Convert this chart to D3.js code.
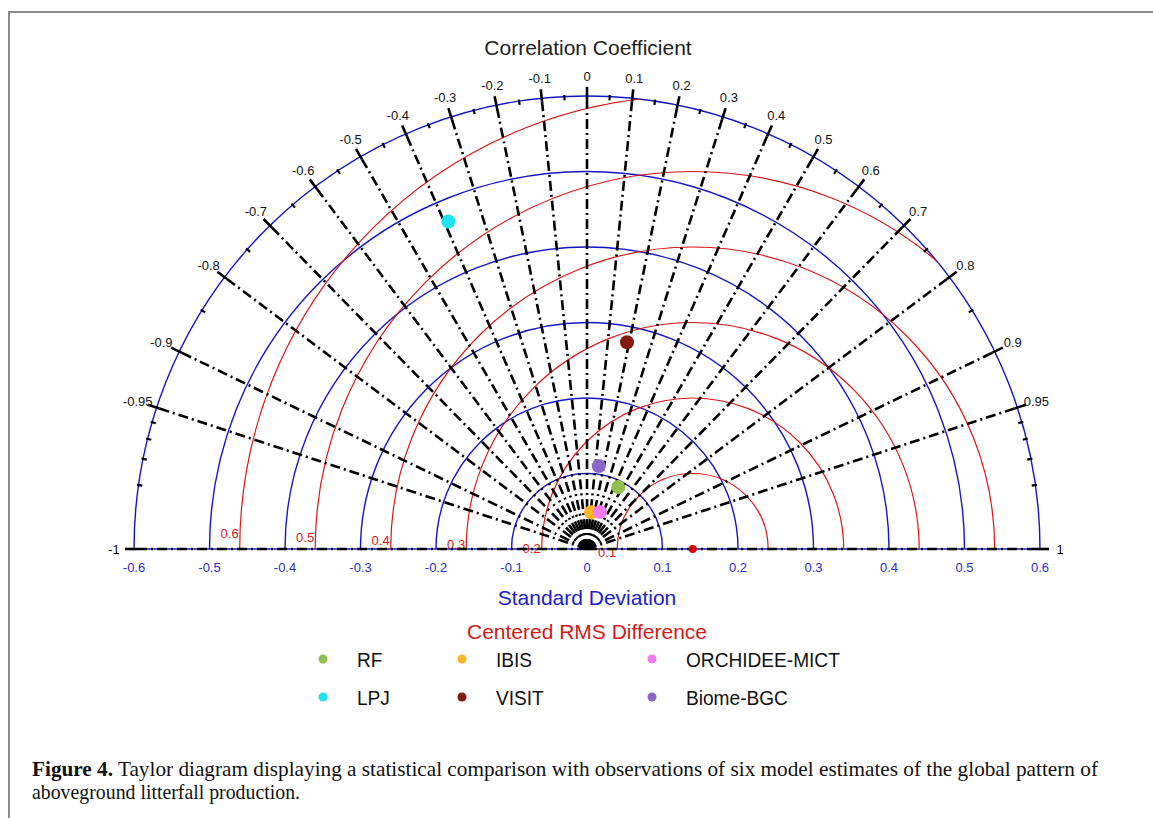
<!DOCTYPE html>
<html>
<head>
<meta charset="utf-8">
<script src="https://d3js.org/d3.v7.min.js"></script>
<style>
  body { margin: 0; background: #fff; }
  svg { font-family: "Liberation Sans", Arial, sans-serif; }
  .caption { font-family: "Liberation Serif", "Times New Roman", serif; }
</style>
</head>
<body>
<svg id="taylor" width="1153" height="818"></svg>

<script>
  // model stats
  var models = ["RF", "IBIS", "ORCHIDEE-MICT", "LPJ", "VISIT", "Biome-BGC"];
  var stdDev = [0.092, 0.049, 0.052, 0.471, 0.279, 0.111];
  var corr = [0.45, 0.11, 0.33, -0.39, 0.19, 0.14];
  var colors = ["#92c04e", "#fdb52a", "#f47cf0", "#1fe2f0", "#801a0c", "#8a66c8"];
  var refStd = 0.14; // observations

  // axes
  var stdTicks = [-0.6, -0.5, -0.4, -0.3, -0.2, -0.1, 0, 0.1, 0.2, 0.3, 0.4, 0.5, 0.6];
  var stdArcs = [0.1, 0.2, 0.3, 0.4, 0.5, 0.6];
  var rmsArcs = [0.1, 0.2, 0.3, 0.4, 0.5, 0.6];
  var corrMajor = [-1, -0.95, -0.9, -0.8, -0.7, -0.6, -0.5, -0.4, -0.3, -0.2, -0.1, 0,
                   0.1, 0.2, 0.3, 0.4, 0.5, 0.6, 0.7, 0.8, 0.9, 0.95, 1];
  var corrMinor = [-0.99, -0.98, -0.97, -0.96, -0.85, -0.75, -0.65, -0.55, -0.45, -0.35,
                   -0.25, -0.15, -0.05, 0.05, 0.15, 0.25, 0.35, 0.45, 0.55, 0.65, 0.75,
                   0.85, 0.96, 0.97, 0.98, 0.99];

  var cx = 587, cy = 549;
  var rScale = d3.scaleLinear().domain([0, 0.6]).range([0, 453]);
  var xScale = d3.scaleLinear().domain([-0.6, 0.6]).range([cx - 453, cx + 453]);
  var R = rScale(0.6);

  var svg = d3.select("#taylor");

  // frame of the figure
  svg.append("path")
    .attr("d", "M9,818 L9,12 L1153,12")
    .attr("fill", "none")
    .attr("stroke", "#8c8c8c")
    .attr("stroke-width", 2);

  // point on the diagram for (std, correlation)
  function pos(s, c) {
    var a = Math.acos(c);
    return [cx + rScale(s) * Math.cos(a), cy - rScale(s) * Math.sin(a)];
  }

  // clip for the rms circles: upper half inside the outer arc
  svg.append("clipPath").attr("id", "half")
    .append("path")
    .attr("d", "M" + (cx - R) + "," + cy + " A" + R + "," + R + " 0 0 1 " + (cx + R) + "," + cy + " Z");

  // blue standard deviation arcs
  svg.selectAll(".stdArc")
    .data(stdArcs)
    .enter().append("path")
    .attr("class", "stdArc")
    .attr("transform", "translate(" + cx + "," + cy + ")")
    .attr("d", function(d) {
      var r = rScale(d);
      return "M" + (-r) + ",0 A" + r + "," + r + " 0 0 1 " + r + ",0";
    })
    .attr("fill", "none")
    .attr("stroke", "#1515c8")
    .attr("stroke-width", 1.4);

  svg.append("line")
    .attr("x1", xScale(-0.6)).attr("x2", xScale(0.6))
    .attr("y1", cy).attr("y2", cy)
    .attr("stroke", "#1515c8")
    .attr("stroke-width", 1.4);

  // red centered rms circles around the reference
  svg.append("g").attr("clip-path", "url(#half)")
    .selectAll("circle")
    .data(rmsArcs)
    .enter().append("circle")
    .attr("cx", xScale(refStd))
    .attr("cy", cy)
    .attr("r", function(d) { return rScale(d); })
    .attr("fill", "none")
    .attr("stroke", "#dc1414")
    .attr("stroke-width", 1.2);

  svg.selectAll(".rmsLabel")
    .data(rmsArcs)
    .enter().append("text")
    .attr("class", "rmsLabel")
    .attr("x", function(d) { return xScale(refStd - d) - 1; })
    .attr("y", function(d) { return 556 - 38 * d; })
    .attr("text-anchor", "end")
    .attr("dominant-baseline", "central")
    .attr("font-size", 13)
    .attr("fill", "#dc1414")
    .text(function(d) { return d; });

  // dash-dot correlation rays
  svg.selectAll(".ray")
    .data(corrMajor)
    .enter().append("line")
    .attr("class", "ray")
    .attr("x1", cx).attr("y1", cy)
    .attr("x2", function(d) { return pos(0.6, d)[0]; })
    .attr("y2", function(d) { return pos(0.6, d)[1]; })
    .attr("stroke", "#000")
    .attr("stroke-width", 2.6)
    .attr("stroke-dasharray", "10,4,2,4");

  // ticks on the outer arc
  svg.selectAll(".majTick")
    .data(corrMajor)
    .enter().append("line")
    .attr("class", "majTick")
    .attr("x1", function(d) { return pos(0.6 - 0.004, d)[0]; })
    .attr("y1", function(d) { return pos(0.6 - 0.004, d)[1]; })
    .attr("x2", function(d) { return pos(0.6 + 0.012, d)[0]; })
    .attr("y2", function(d) { return pos(0.6 + 0.012, d)[1]; })
    .attr("stroke", "#000")
    .attr("stroke-width", 2.6);

  svg.selectAll(".minTick")
    .data(corrMinor)
    .enter().append("line")
    .attr("class", "minTick")
    .attr("x1", function(d) { return pos(0.6 - 0.005, d)[0]; })
    .attr("y1", function(d) { return pos(0.6 - 0.005, d)[1]; })
    .attr("x2", function(d) { return pos(0.6 + 0.002, d)[0]; })
    .attr("y2", function(d) { return pos(0.6 + 0.002, d)[1]; })
    .attr("stroke", "#000")
    .attr("stroke-width", 2.2);

  // correlation labels
  svg.selectAll(".corrLabel")
    .data(corrMajor)
    .enter().append("text")
    .attr("class", "corrLabel")
    .attr("x", function(d) { return pos(rScale.invert(473), d)[0]; })
    .attr("y", function(d) { return pos(rScale.invert(473), d)[1]; })
    .attr("text-anchor", "middle")
    .attr("dominant-baseline", "central")
    .attr("font-size", 13)
    .attr("fill", "#111")
    .text(function(d) { return d; });

  // std axis labels
  svg.selectAll(".stdLabel")
    .data(stdTicks)
    .enter().append("text")
    .attr("class", "stdLabel")
    .attr("x", function(d) { return xScale(d); })
    .attr("y", 567)
    .attr("text-anchor", "middle")
    .attr("dominant-baseline", "central")
    .attr("font-size", 13)
    .attr("fill", "#2a2ad0")
    .text(function(d) { return d; });

  // reference point
  svg.append("circle")
    .attr("cx", xScale(refStd)).attr("cy", cy)
    .attr("r", 4)
    .attr("fill", "#dd0000");

  // model points
  svg.selectAll(".pt")
    .data(models)
    .enter().append("circle")
    .attr("class", "pt")
    .attr("cx", function(d, i) { return pos(stdDev[i], corr[i])[0]; })
    .attr("cy", function(d, i) { return pos(stdDev[i], corr[i])[1]; })
    .attr("r", 7)
    .attr("fill", function(d, i) { return colors[i]; });

  // titles
  svg.append("text")
    .attr("x", 588).attr("y", 55)
    .attr("text-anchor", "middle")
    .attr("font-size", 21)
    .attr("fill", "#222")
    .text("Correlation Coefficient");

  svg.append("text")
    .attr("x", 587).attr("y", 605)
    .attr("text-anchor", "middle")
    .attr("font-size", 21)
    .attr("fill", "#2020c8")
    .text("Standard Deviation");

  svg.append("text")
    .attr("x", 587).attr("y", 639)
    .attr("text-anchor", "middle")
    .attr("font-size", 21)
    .attr("fill", "#d41818")
    .text("Centered RMS Difference");

  // legend, two rows of three
  var legX = [323, 462, 652];
  var legY = [659, 697];
  var leg = svg.selectAll(".leg")
    .data(models)
    .enter().append("g")
    .attr("class", "leg")
    .attr("transform", function(d, i) {
      return "translate(" + legX[i % 3] + "," + legY[Math.floor(i / 3)] + ")";
    });
  leg.append("circle")
    .attr("r", 4.5)
    .attr("fill", function(d, i) { return colors[i]; });
  leg.append("text")
    .attr("transform", "translate(34,8) scale(0.91,1)")
    .attr("font-size", 21)
    .attr("fill", "#111")
    .text(function(d) { return d; });

  // caption
  var cap1 = svg.append("text")
    .attr("class", "caption")
    .attr("x", 32).attr("y", 776)
    .attr("font-size", 21)
    .attr("fill", "#111")
    .attr("textLength", 1066)
    .attr("lengthAdjust", "spacingAndGlyphs");
  cap1.append("tspan").attr("font-weight", "bold").text("Figure 4.");
  cap1.append("tspan").text(" Taylor diagram displaying a statistical comparison with observations of six model estimates of the global pattern of");

  svg.append("text")
    .attr("class", "caption")
    .attr("x", 32).attr("y", 799)
    .attr("font-size", 21)
    .attr("fill", "#111")
    .attr("textLength", 268)
    .attr("lengthAdjust", "spacingAndGlyphs")
    .text("aboveground litterfall production.");
</script>
</body>
</html>
